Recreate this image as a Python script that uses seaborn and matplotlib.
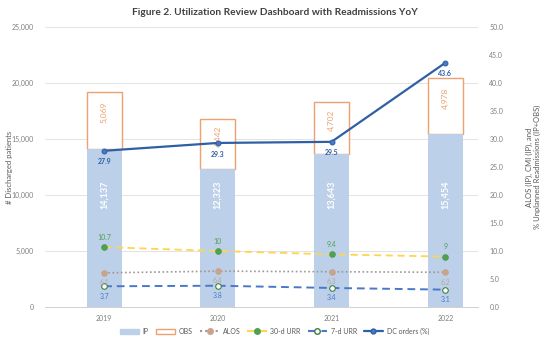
import numpy as np
import pandas as pd
import matplotlib
matplotlib.use("Agg")
import matplotlib.pyplot as plt
from matplotlib.lines import Line2D
from matplotlib.patches import Patch
import seaborn as sns

years = ["2019", "2020", "2021", "2022"]
ip = [14137, 12323, 13643, 15454]
obs = [5069, 4442, 4702, 4978]
alos = [6.1, 6.4, 6.3, 6.2]
urr30 = [10.7, 10, 9.4, 9]
urr7 = [3.7, 3.8, 3.4, 3.1]
dc_orders = [27.9, 29.3, 29.5, 43.6]
left_ticks = [0, 5000, 10000, 15000, 20000, 25000]
right_ticks = [0, 5, 10, 15, 20, 25, 30, 35, 40, 45, 50]

sns.set_theme(style="white")
plt.rcParams["font.family"] = ["Lato", "DejaVu Sans"]

C_IP = "#BDD0EA"
C_OBS = "#EDA170"
C_ALOS_L = "#A09790"
C_ALOS_M = "#C9A48C"
C_30L = "#FFD54F"
C_30M = "#4FA04F"
C_7 = "#4A78C8"
C_DC = "#2F5FA5"
GREY = "#7F7F7F"

df = pd.DataFrame({"year": years, "ip": ip, "obs": obs})

fig = plt.figure(figsize=(5.49, 3.41), dpi=100)
ax = fig.add_axes([0.082, 0.0997, 0.789, 0.821])

sns.barplot(data=df, x="year", y="obs", bottom=np.array(ip), color="white",
            edgecolor=C_OBS, linewidth=1.0, width=0.31, saturation=1, ax=ax, zorder=2)
sns.barplot(data=df, x="year", y="ip", color=C_IP, edgecolor=C_IP, linewidth=0,
            width=0.31, saturation=1, ax=ax, zorder=2)

ax.set_ylim(0, 25000)
ax.set_xlim(-0.52, 3.29)
ax.set_yticks(left_ticks)
ax.set_yticklabels([f"{v:,}" for v in left_ticks], fontsize=5, color=GREY)
ax.tick_params(axis="x", labelsize=5, colors=GREY, length=0, pad=6)
ax.tick_params(axis="y", length=0, pad=8)
ax.set_xlabel("")
ax.set_ylabel("# Discharged patients", fontsize=5.5, color="#595959")
ax.yaxis.set_label_coords(-0.075, 0.5)
ax.yaxis.grid(True, color="#E3E3E3", linewidth=0.7, zorder=0)
ax.set_axisbelow(True)
for s in ["left", "right", "top"]:
    ax.spines[s].set_visible(False)
ax.spines["bottom"].set_color("#D0D0D0")
ax.spines["bottom"].set_linewidth(0.7)

for i, (a, b) in enumerate(zip(ip, obs)):
    ax.text(i, 10000, f"{a:,}", rotation=90, ha="center", va="center",
            color="white", fontsize=6.5, fontweight="bold", zorder=5)
    ax.text(i, a + b / 2 + 700, f"{b:,}", rotation=90, ha="center", va="center",
            color=C_OBS, fontsize=6, zorder=5)

ax2 = ax.twinx()
pos = np.arange(len(years))
sns.lineplot(x=pos, y=alos, ax=ax2, color=C_ALOS_L, linestyle=(0, (1, 1.5)), linewidth=1.2,
             marker="o", markersize=4, markerfacecolor=C_ALOS_M, markeredgecolor=C_ALOS_M, sort=False)
sns.lineplot(x=pos, y=urr30, ax=ax2, color=C_30L, linestyle=(0, (4, 2.5)), linewidth=1.3,
             marker="o", markersize=4, markerfacecolor=C_30M, markeredgecolor=C_30M, sort=False)
sns.lineplot(x=pos, y=urr7, ax=ax2, color=C_7, linestyle=(0, (4, 2.5)), linewidth=1.4,
             marker="o", markersize=4, markerfacecolor="white", markeredgecolor="#3E7F3E",
             markeredgewidth=0.8, sort=False)
sns.lineplot(x=pos, y=dc_orders, ax=ax2, color=C_DC, linewidth=1.6,
             marker="o", markersize=3.5, markerfacecolor="#4A78C8", markeredgecolor=C_DC, sort=False)

ax2.set_ylim(0, 50)
ax2.set_yticks(right_ticks)
ax2.set_yticklabels([f"{v:.1f}" for v in right_ticks], fontsize=5, color=GREY)
ax2.tick_params(axis="y", length=0, pad=8)
ax2.set_ylabel("ALOS (IP), CMI (IP), and\n% Unplanned Readmissions (IP+OBS)",
               fontsize=5.5, color="#595959", rotation=90, labelpad=16)
for s in ["left", "right", "top", "bottom"]:
    ax2.spines[s].set_visible(False)

def fmt(v):
    return f"{v:g}"

for i in pos:
    ax2.annotate(f"{dc_orders[i]:.1f}", (i, dc_orders[i]), xytext=(0, -8), textcoords="offset points",
                 ha="center", va="center", fontsize=5, color=C_DC, fontweight="bold")
    ax2.annotate(fmt(urr30[i]), (i, urr30[i]), xytext=(0, 7), textcoords="offset points",
                 ha="center", va="center", fontsize=5, color=C_30M)
    ax2.annotate(f"{alos[i]:.1f}", (i, alos[i]), xytext=(0, -7), textcoords="offset points",
                 ha="center", va="center", fontsize=5, color="#B8A898")
    ax2.annotate(f"{urr7[i]:.1f}", (i, urr7[i]), xytext=(0, -7), textcoords="offset points",
                 ha="center", va="center", fontsize=5, color=C_7)

handles = [
    Patch(facecolor=C_IP, edgecolor=C_IP),
    Patch(facecolor="white", edgecolor=C_OBS, linewidth=1),
    Line2D([], [], color=C_ALOS_L, linestyle=(0, (1, 1.5)), marker="o", markersize=4,
           markerfacecolor=C_ALOS_M, markeredgecolor=C_ALOS_M),
    Line2D([], [], color=C_30L, linestyle=(0, (4, 2.5)), marker="o", markersize=4,
           markerfacecolor=C_30M, markeredgecolor=C_30M),
    Line2D([], [], color=C_7, linestyle=(0, (4, 2.5)), marker="o", markersize=4,
           markerfacecolor="white", markeredgecolor="#3E7F3E"),
    Line2D([], [], color=C_DC, linewidth=1.6, marker="o", markersize=3.5,
           markerfacecolor="#4A78C8", markeredgecolor=C_DC),
]
labels = ["IP", "OBS", "ALOS", "30-d URR", "7-d URR", "DC orders (%)"]
leg = fig.legend(handles, labels, loc="center", bbox_to_anchor=(0.5, 0.028), ncol=6,
                 frameon=False, fontsize=5, handlelength=2.8, handleheight=0.7,
                 columnspacing=1.0, handletextpad=0.5)
for t in leg.get_texts():
    t.set_color("#595959")

fig.text(0.5, 0.962, "Figure 2. Utilization Review Dashboard with Readmissions YoY",
         ha="center", va="center", fontsize=7.3, fontweight="bold", color="#404040")

fig.savefig("out.png", dpi=100)
